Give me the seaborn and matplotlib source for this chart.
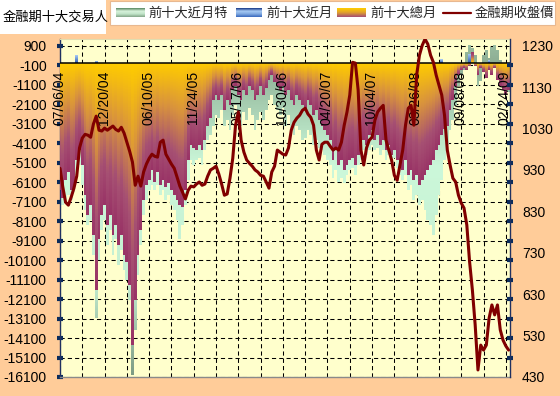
import numpy as np
import matplotlib
matplotlib.use("Agg")
import matplotlib.pyplot as plt
import seaborn as sns
from matplotlib.colors import LinearSegmentedColormap
from matplotlib.patches import Rectangle

# ---------------- data ----------------
date_labels = ["07/06/04", "12/20/04", "06/10/05", "11/24/05", "05/17/06", "10/30/06",
               "04/20/07", "10/04/07", "03/26/08", "09/08/08", "02/24/09"]

price = [934, 889, 852, 845, 864, 886, 915, 983, 1007, 1016,
         1014, 1009, 1041, 1060, 1026, 1024, 1031, 1026, 1031, 1036,
         1028, 1024, 1033, 1019, 997, 975, 949, 893, 915, 891,
         925, 944, 958, 968, 963, 961, 997, 1002, 968, 956,
         944, 934, 913, 891, 876, 860, 881, 891, 889, 896,
         901, 893, 896, 915, 930, 934, 939, 920, 896, 869,
         872, 910, 958, 1038, 1070, 1002, 973, 954, 946, 939,
         930, 925, 917, 915, 901, 886, 925, 939, 978, 973,
         968, 966, 983, 1026, 1045, 1055, 1062, 1074, 1079, 1065,
         1057, 1038, 978, 954, 992, 997, 997, 987, 978, 983,
         978, 997, 1038, 1070, 1111, 1190, 1188, 1123, 978, 942,
         983, 1002, 1009, 1050, 1070, 1079, 1086, 1002, 978, 954,
         917, 905, 942, 978, 1038, 1079, 1086, 1038, 1159, 1207,
         1231, 1246, 1234, 1207, 1190, 1159, 1135, 1111, 1062, 978,
         942, 910, 901, 869, 850, 838, 797, 708, 640, 556,
         447, 507, 495, 507, 572, 604, 580, 604, 544, 519,
         505, 495]

top10_total = [-6500, -6900, -6000, -5600, -6500, -6250, -4950, -4450, -5250, -6750,
               -7800, -7300, -8800, -11650, -9050, -7800, -7300, -8300, -7800, -8800,
               -8300, -9350, -8800, -9850, -10200, -11400, -14450, -12150, -9850, -8550,
               -7000, -6250, -6000, -5500, -6100, -5600, -6250, -6000, -6350, -6150,
               -6500, -6750, -7000, -7300, -7400, -6500, -4950, -4200, -4350, -4450,
               -4200, -4450, -3950, -3200, -2800, -1900, -1650, -1900, -1650, -2400,
               -1900, -2150, -1400, -1150, -1650, -1900, -1400, -1650, -1150, -1400,
               -1900, -1650, -1150, -1650, -1300, -850, -600, -950, -1150, -1400,
               -1150, -1650, -1400, -1900, -2150, -1650, -1900, -2150, -2400, -1900,
               -2150, -2650, -2400, -2900, -3200, -3450, -3700, -3950, -4950, -4450,
               -5250, -4950, -5500, -5250, -4950, -4850, -5250, -4700, -4450, -3950,
               -4200, -3700, -3450, -3950, -3700, -4200, -3950, -4450, -4200, -4700,
               -4450, -4950, -5250, -5500, -4950, -5750, -5500, -6000, -5750, -6250,
               -6000, -5750, -5500, -5250, -4950, -4450, -4200, -3700, -3350, -3200,
               -2400, -1900, -1150, -600, -350, -250, -350, -150, 600, -150,
               -600, -250, -450, -750, -350, -600, -250, -850, -1150, -1400,
               -1650, -1400]

top10_near_special = [-7000, -7300, -7000, -6750, -7000, -6600, -5750, -5250, -6250, -7550,
                      -8300, -8050, -9850, -13050, -10100, -8550, -8050, -9350, -8550, -9850,
                      -9050, -10350, -9600, -10600, -11150, -12150, -16000, -13700, -10850, -9350,
                      -7800, -7000, -6500, -6250, -6500, -6250, -6750, -6500, -7000, -6750,
                      -7300, -7550, -8050, -9050, -8300, -7300, -6000, -4950, -5250, -4950,
                      -4850, -5250, -4450, -3950, -3700, -3200, -2650, -2800, -2400, -3200,
                      -2900, -3450, -2650, -2150, -2800, -3200, -2500, -2900, -2300, -2650,
                      -3450, -2900, -2500, -2900, -2400, -1900, -1650, -2150, -2400, -2650,
                      -2300, -3200, -2650, -3450, -3700, -3200, -3450, -3950, -3850, -3450,
                      -3700, -4200, -3950, -4350, -4450, -4700, -4950, -5250, -5900, -5500,
                      -6100, -5900, -6150, -5750, -5500, -5400, -5750, -5250, -4950, -4450,
                      -4700, -4450, -4200, -4450, -4350, -4700, -4450, -4950, -4700, -5050,
                      -4850, -5400, -5750, -6000, -5750, -6500, -6250, -7000, -6750, -7300,
                      -7000, -7550, -8050, -8300, -8800, -7800, -6750, -6000, -4950, -4200,
                      -3450, -2900, -2150, -1150, -600, -350, 570, 930, 770, 410,
                      -1150, -900, 410, 670, 260, 820, 920, 670, 160, -1400,
                      -1650, -1500]

top10_near = [0, 0, 0, 0, 0, 0, 420, 0, 0, 0,
              0, 0, 0, 120, 0, 0, 0, 0, 0, 0,
              0, 0, 0, 0, 0, 0, 0, 0, 0, 0,
              0, 0, 0, 0, 0, 0, 0, 0, 0, 0,
              0, 0, 0, 0, 0, 0, 0, 0, 0, 0,
              0, 0, 0, 0, 0, 0, 0, 0, 0, 0,
              0, 0, 0, 0, 0, 0, 0, 0, 0, 0,
              0, 0, 0, 0, 0, 0, 0, 0, 0, 0,
              0, 0, 0, 0, 0, 0, 0, 0, 0, 0,
              0, 0, 0, 0, 0, 0, 0, 0, 0, 0,
              0, 0, 0, 0, 0, 0, 0, 0, 0, 0,
              0, 0, 80, 0, 0, 0, 0, 0, 0, 0,
              0, 0, 0, 0, 0, 0, 0, 0, 0, 0,
              0, 0, 0, 0, 0, 0, 0, 200, 0, 0,
              0, 0, 0, 0, 0, 0, 0, 500, 0, 0,
              0, 0, 0, 0, 150, 0, 0, 0, 0, 0,
              0, 0]

left_ticks = list(range(900, -16101, -1000))
right_ticks = list(range(430, 1231, 100))

# ---------------- style ----------------
sns.set_theme(style="white")
plt.rcParams["font.family"] = ["Liberation Sans", "Noto Sans CJK TC", "DejaVu Sans"]
plt.rcParams["axes.unicode_minus"] = False

n = len(price)
idx = np.arange(n)
YMIN, YMAX = -16100, 1230
R_LO = 430
R_HI = R_LO + (YMAX - YMIN) * 800 / 17000

fig = plt.figure(figsize=(5.6, 3.96), dpi=100, facecolor="#FFCC99")
ax = fig.add_axes([60 / 560, 1 - 377 / 396, 450 / 560, (377 - 39.3) / 396])
ax.set_facecolor("#FFFFCC")

rows = 1000
yv = np.linspace(YMIN, YMAX, rows)


def area_image(vals, cmap, mode, z):
    v = np.asarray(vals, float)[None, :]
    Y = yv[:, None]
    inside = np.where(v < 0, (Y <= 0) & (Y >= v), (Y >= 0) & (Y <= v))
    if mode == "column":
        t = np.clip(np.abs(Y) / np.maximum(np.abs(v), 1e-9), 0, 1)
    else:
        t = np.clip(np.abs(Y) / abs(YMIN), 0, 1)
    t = np.broadcast_to(t, inside.shape)
    rgba = cmap(t)
    rgba[..., 3] = inside.astype(float)
    ax.imshow(rgba, extent=(-0.5, n - 0.5, YMIN, YMAX), origin="lower",
              aspect="auto", interpolation="nearest", zorder=z)


green_cmap = LinearSegmentedColormap.from_list(
    "g", [(0, "#8DAE93"), (0.2, "#B4DEC0"), (0.33, "#CCF8DA"),
          (0.7, "#C4EED0"), (1.0, "#7C9A82")])
blue_cmap = LinearSegmentedColormap.from_list("b", ["#2A56B0", "#A8CCF5"])
total_cmap = LinearSegmentedColormap.from_list(
    "t", [(0, "#FFCC00"), (0.35, "#D8923E"), (0.68, "#A65073"), (1.0, "#993366")])

area_image(top10_near_special, green_cmap, "abs", 2)
area_image(top10_near, blue_cmap, "column", 3)
area_image(top10_total, total_cmap, "column", 4)

ax.axhline(0, color="black", lw=1.1, zorder=5)

ax.set_xlim(0, n - 0.5)
ax.set_ylim(YMIN, YMAX)
ax.set_xticks(np.arange(0, n, 8))
ax.set_yticks(left_ticks)
ax.set_yticklabels([str(v) for v in left_ticks])
ax.grid(True, color="black", linestyle=(0, (4, 3)), linewidth=0.75)
ax.set_axisbelow(True)
ax.tick_params(axis="x", length=0, labelbottom=False)
ax.tick_params(axis="y", direction="inout", length=4, width=3, color="#0B2C5C",
               labelsize=10, pad=7.5, labelcolor="black", left=True)

for k, lab in enumerate(date_labels):
    ax.text(k * 16 - 0.35, -380, lab, rotation=90, ha="center", va="top",
            fontsize=10, color="black", zorder=6, clip_on=False)

ax2 = ax.twinx()
sns.lineplot(x=idx, y=price, ax=ax2, color="#800000", linewidth=2.2, legend=False)
ax2.set_ylim(R_LO, R_HI)
ax2.set_xlim(0, n - 0.5)
ax2.set_yticks(right_ticks)
ax2.set_yticklabels([str(v) for v in right_ticks])
ax2.set_yticks([R_LO + k * 800 / 17 for k in range(18)], minor=True)
ax2.tick_params(axis="y", which="major", length=0, labelsize=10, pad=8.6,
                labelcolor="black", right=True)
ax2.tick_params(axis="y", which="minor", direction="inout", length=4, width=3,
                color="#0B2C5C", right=True)
ax2.set_ylabel("")
ax2.set_xlabel("")
ax2.grid(False)

for a in (ax, ax2):
    for s in a.spines.values():
        s.set_visible(False)
ax.spines["left"].set_visible(True)
ax.spines["left"].set_color("#1F3060")
ax.spines["left"].set_linewidth(1)
ax.spines["bottom"].set_visible(True)
ax.spines["bottom"].set_color("#8A8A8A")
ax.spines["bottom"].set_linewidth(1)
ax.spines["top"].set_visible(True)
ax.spines["top"].set_color("#E0DDB0")
ax.spines["top"].set_linewidth(0.8)
ax2.spines["right"].set_visible(True)
ax2.spines["right"].set_color("#1F3060")
ax2.spines["right"].set_linewidth(1)

# ---------------- legend (pixel coordinates) ----------------
lg = fig.add_axes([0, 0, 1, 1])
lg.patch.set_alpha(0)
lg.axis("off")

cjk = ["Noto Sans CJK TC", "DejaVu Sans"]
lg.add_patch(Rectangle((0, 0), 106, 34, facecolor="white", edgecolor="none", zorder=1))
lg.text(3, 17, "金融期十大交易人", va="center", ha="left", fontsize=9.5,
        family=cjk, color="black", zorder=4)
lg.add_patch(Rectangle((110, 0.5), 445, 24.5, facecolor="white",
                       edgecolor="#E8B890", lw=0.8, zorder=1))


def swatch(x0, x1, colors):
    cm = LinearSegmentedColormap.from_list("s", colors)
    grad = cm(np.linspace(0, 1, 20))[:, None, :]
    lg.imshow(grad, extent=(x0, x1, 17.5, 8.5), origin="upper",
              aspect="auto", interpolation="bilinear", zorder=3)


swatch(116, 145, ["#5C8A64", "#D8F2DC", "#C0E4C8", "#86A88C"])
lg.text(148, 13, "前十大近月特", va="center", ha="left", fontsize=9.5, family=cjk, zorder=4)
swatch(236, 262, ["#1A3A8A", "#A8CCF5", "#7FA8E0", "#3C6CC0"])
lg.text(266, 13, "前十大近月", va="center", ha="left", fontsize=9.5, family=cjk, zorder=4)
swatch(337, 366, ["#FFCC00", "#E0A030", "#A65073"])
lg.text(370, 13, "前十大總月", va="center", ha="left", fontsize=9.5, family=cjk, zorder=4)
lg.plot([443, 471], [13, 13], color="#800000", lw=1.6, zorder=4)
lg.text(475, 13, "金融期收盤價", va="center", ha="left", fontsize=9.5, family=cjk, zorder=4)

lg.set_xlim(0, 560)
lg.set_ylim(396, 0)

fig.savefig("out.png", dpi=100, facecolor=fig.get_facecolor())
